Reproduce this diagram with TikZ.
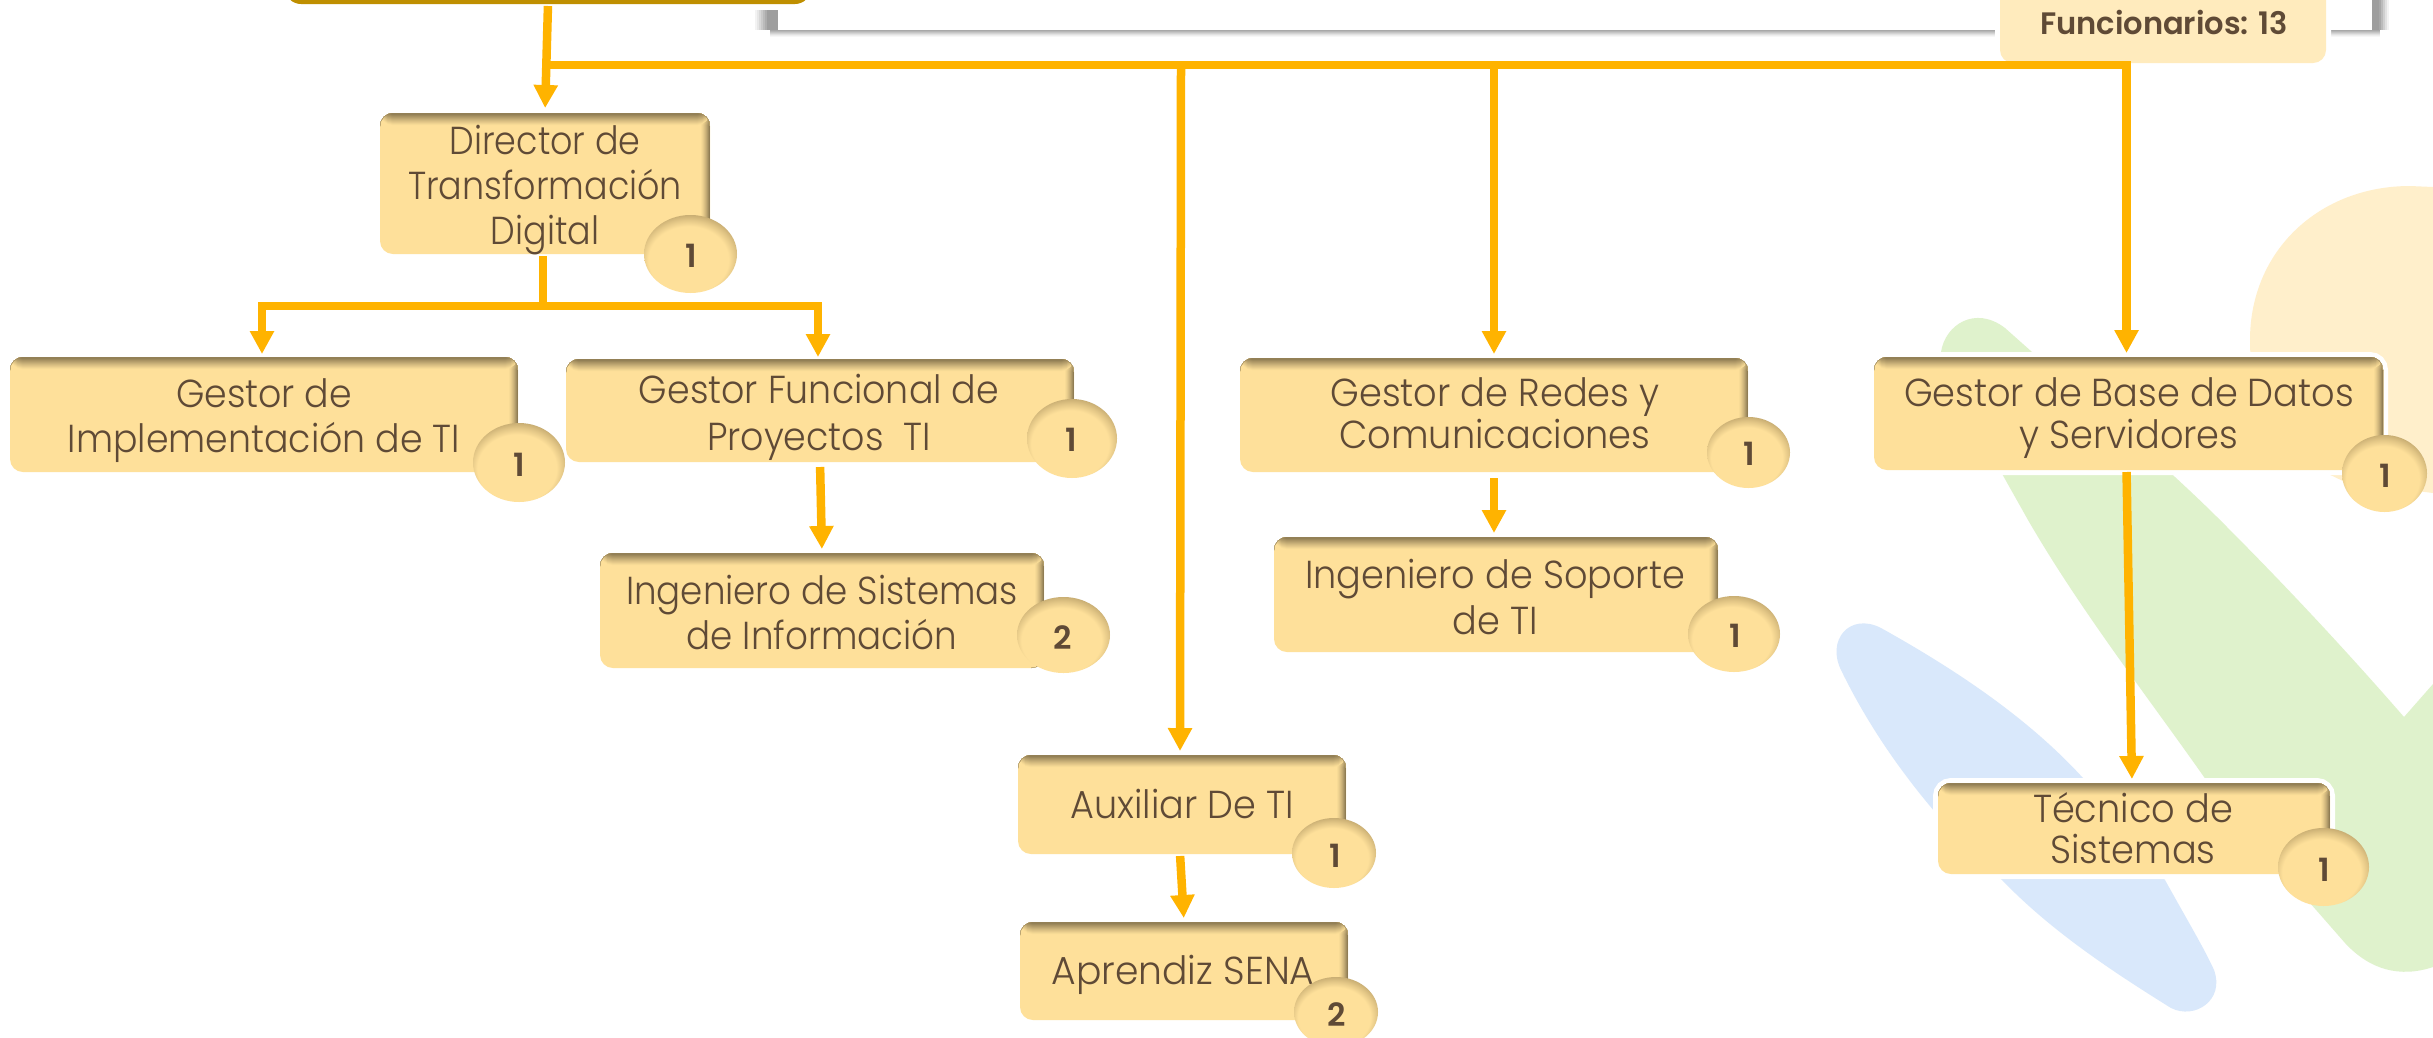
\documentclass[tikz,border=0pt]{standalone}
\usepackage{fontspec}
\usepackage{graphicx}
\usetikzlibrary{arrows.meta,shapes.geometric}
\setmainfont{Poppins}[UprightFont=* Light,BoldFont=* SemiBold]
\definecolor{boxfill}{HTML}{FEE09A}
\definecolor{boxdark}{HTML}{8A7850}
\definecolor{boxmid}{HTML}{C9AE73}
\definecolor{inkbrown}{HTML}{5F4A36}
\definecolor{linegold}{HTML}{FFB300}
\definecolor{topgold}{HTML}{BF8F00}
\definecolor{paleyellow}{HTML}{FFEFCB}
\definecolor{palegreen}{HTML}{DFF2CC}
\definecolor{paleblue}{HTML}{D9E8FB}
\definecolor{paleorange}{HTML}{FFEBBD}
\definecolor{shadowgrey}{HTML}{9E9E9E}
\pgfdeclareradialshading{badgebevel}{\pgfpoint{-2bp}{-6.5bp}}{%
  color(0bp)=(boxfill); color(21.5bp)=(boxfill); color(25bp)=(boxmid!50!boxfill);
  color(28bp)=(boxmid); color(32bp)=(boxdark); color(50bp)=(boxdark)}
\tikzset{
  x=1pt,y=-1pt,
  orgbox/.style={rectangle,rounded corners=13pt,inner sep=0pt,outer sep=0pt,fill=boxfill,
    preaction={draw=white,line width=10pt},
    path picture={
      \foreach \s/\p in {9/5,8/12,7/20,6/30,5/40,4/52,3/65,2/80,1/95}{
        \fill[boxdark!\p!boxfill] ([xshift=-\s pt]path picture bounding box.north east) rectangle (path picture bounding box.south east);}
      \foreach \s/\p in {12/5,11/12,10/20,9/28,8/36,7/45,6/54,5/63,4/72,3/82,2/92}{
        \fill[boxdark!\p!boxfill] (path picture bounding box.north west) rectangle ([yshift=-\s pt]path picture bounding box.north east);}
    }},
  badge/.style={ellipse,inner sep=0pt,outer sep=0pt,shade,shading=badgebevel},
  badgenum/.style={inner sep=0pt,text=inkbrown,font=\fontsize{32}{34}\selectfont\bfseries},
  orglabel/.style={inner sep=0pt,text=inkbrown},
  bus/.style={draw=linegold,line width=8.5pt},
  busarrow/.style={bus,-{Triangle[width=23pt,length=23pt]}},
}
\newcommand{\orgbox}[5]{%
  \pgfmathsetmacro{\bw}{#4-#2}\pgfmathsetmacro{\bh}{#5-#3}%
  \pgfmathsetmacro{\bx}{(#2+#4)/2}\pgfmathsetmacro{\by}{(#3+#5)/2}%
  \node[orgbox,minimum width=\bw pt,minimum height=\bh pt] (#1) at (\bx,\by) {};}
\newcommand{\orgbadge}[8]{%
  \pgfmathsetmacro{\bw}{#4-#2}\pgfmathsetmacro{\bh}{#5-#3}%
  \pgfmathsetmacro{\bx}{(#2+#4)/2}\pgfmathsetmacro{\by}{(#3+#5)/2}%
  \node[badge,minimum width=\bw pt,minimum height=\bh pt] (#1) at (\bx,\by) {};
  \node[badgenum] (#1n) at (#6,#7) {#8};}
\newcommand{\orglabel}[6]{%
  \node[orglabel] (#1) at (#2,#3) {\resizebox{#4pt}{\height}{\fontsize{39}{#5}\selectfont
    \begin{tabular}{@{}c@{}}#6\end{tabular}}};}
\begin{document}
\begin{tikzpicture}
\useasboundingbox (0,0) rectangle (2433,1037);
\clip (0,0) rectangle (2433,1037);
\fill[white] (0,0) rectangle (2433,1037);
% background leaves
\fill[paleyellow] (2250,340) .. controls (2250,250) and (2320,186) .. (2410,186)
  -- (2433,187) -- (2433,493) -- (2345,482) -- (2320,470) .. controls (2270,430) and (2250,400) .. (2250,340) -- cycle;
\fill[palegreen] (1941,352) .. controls (1945,325) and (1975,305) .. (2005,328) -- (2032,352)
  .. controls (2100,410) and (2170,470) .. (2220,520)
  .. controls (2290,590) and (2350,655) .. (2404,717) -- (2433,684) -- (2433,967)
  .. controls (2400,978) and (2370,970) .. (2345,943)
  .. controls (2290,880) and (2245,830) .. (2204,777)
  .. controls (2150,700) and (2080,610) .. (2028,520)
  .. controls (2000,470) and (1965,410) .. (1941,352) -- cycle;
\fill[paleblue] (1881,628) .. controls (1960,672) and (2030,720) .. (2083,778) -- (2165,880)
  .. controls (2190,925) and (2205,950) .. (2214,970)
  .. controls (2225,1000) and (2195,1020) .. (2171,1008)
  .. controls (2110,970) and (2050,930) .. (2002,880)
  .. controls (1950,835) and (1885,760) .. (1842,672)
  .. controls (1825,640) and (1850,612) .. (1881,628) -- cycle;
% panel shadow
\foreach \s/\p in {755/12,757/25,759/40,761/55,763/70,765/85,767/100}{\fill[shadowgrey!\p!white] (\s,10) rectangle (778,30);}
\foreach \s/\p in {37/8,36/18,35/30,34/45,33/60,32/75,31/90}{\fill[shadowgrey!\p!white] (770,30) rectangle (2380,\s);}
\foreach \s/\p in {2389/12,2387/30,2385/50,2383/70,2381/90,2379/100}{\fill[shadowgrey!\p!white] (2372,-5) rectangle (\s,30);}
\fill[white] (778,-5) rectangle (2372,30);
% top boxes
\node[rectangle,rounded corners=16pt,inner sep=0pt,outer sep=0pt,fill=topgold,preaction={draw=white,line width=10pt},minimum width=526pt,minimum height=64pt] (topbox) at (548,-28) {};
\node[rectangle,rounded corners=13pt,inner sep=0pt,outer sep=0pt,fill=paleorange,preaction={draw=white,line width=10pt},minimum width=326pt,minimum height=103pt] (staffbox) at (2163,11.5) {};
\node[inner sep=0pt,text=inkbrown] (stafftext) at (2164,22) {\resizebox{248pt}{\height}{\fontsize{31}{33}\selectfont\bfseries Funcionarios: 13}};
% boxes
\orgbox{dir}{380}{113}{710}{254}
\orgbox{impl}{10}{357}{518}{472}
\orgbox{func}{566}{359}{1074}{462}
\orgbox{ingsis}{600}{553}{1044}{668}
\orgbox{aux}{1018}{755}{1346}{854}
\orgbox{sena}{1020}{922}{1348}{1020}
\orgbox{redes}{1240}{358}{1748}{472}
\orgbox{sop}{1274}{537}{1718}{652}
\orgbox{bd}{1874}{357}{2383}{470}
\orgbox{tec}{1938}{783}{2330}{874}
% labels
\orglabel{dirt}{545}{190}{274}{45}{Director de\\Transformación\\Digital}
\orglabel{implt}{264}{421}{392}{45}{Gestor de\\Implementación de TI}
\orglabel{funct}{819}{418}{360}{47}{Gestor Funcional de\\Proyectos\ \ TI}
\orglabel{ingsist}{822}{618}{392}{45}{Ingeniero de Sistemas\\de Información}
\orglabel{auxt}{1182}{809}{223}{45}{Auxiliar De TI}
\orglabel{senat}{1183}{975}{263}{45}{Aprendiz SENA}
\orglabel{redest}{1495}{419}{329}{41}{Gestor de Redes y\\Comunicaciones}
\orglabel{sopt}{1495}{602}{380}{46}{Ingeniero de Soporte\\de TI}
\orglabel{bdt}{2129}{419}{450}{40}{Gestor de Base de Datos\\y Servidores}
\orglabel{tect}{2133}{834}{200}{40}{Técnico de\\Sistemas}
% badges
\orgbadge{bdir}{644}{215}{737}{293}{691}{256}{1}
\orgbadge{bimpl}{473}{423}{565}{502}{519}{465}{1}
\orgbadge{bfunc}{1027}{399}{1117}{478}{1071}{440}{1}
\orgbadge{bing}{1017}{597}{1110}{673}{1063}{638}{2}
\orgbadge{baux}{1292}{818}{1376}{888}{1335}{856}{1}
\orgbadge{bsena}{1294}{977}{1378}{1047}{1337}{1015}{2}
\orgbadge{bred}{1707}{417}{1790}{488}{1749}{454}{1}
\orgbadge{bsop}{1688}{596}{1780}{672}{1735}{636}{1}
\orgbadge{bbd}{2342}{435}{2427}{512}{2385}{476}{1}
\orgbadge{btec}{2278}{828}{2369}{906}{2324}{870}{1}
% connectors
\coordinate (busL) at (548,65);
\coordinate (busA) at (1181,65);
\coordinate (busB) at (1494,65);
\coordinate (dirJ) at (543,306);
\draw[busarrow,shorten <=2pt,shorten >=5pt] (topbox.south) -- (dir.north);
\draw[busarrow,shorten >=4pt] (busL) -| ([xshift=-2pt]bd.north);
\draw[busarrow,shorten >=4pt] (busA) -- ([xshift=-2pt]aux.north);
\draw[busarrow,shorten >=4pt] (busB) -- (redes.north);
\draw[bus,shorten <=2pt] ([xshift=-2pt]dir.south) -- (dirJ);
\draw[busarrow,shorten >=3pt] (dirJ) -| ([xshift=-2pt]impl.north);
\draw[busarrow,shorten >=2pt] (dirJ) -| ([xshift=-2pt]func.north);
\draw[busarrow,shorten <=5pt,shorten >=4pt] (func.south) -- (ingsis.north);
\draw[busarrow,shorten <=6pt,shorten >=4pt] (redes.south) -- ([xshift=-2pt]sop.north);
\draw[busarrow,shorten <=2pt,shorten >=4pt] ([xshift=-2pt]aux.south) -- (sena.north);
\draw[busarrow,shorten <=2pt,shorten >=4pt] ([xshift=-2pt]bd.south) -- ([xshift=-2pt]tec.north);
\end{tikzpicture}
\end{document}
